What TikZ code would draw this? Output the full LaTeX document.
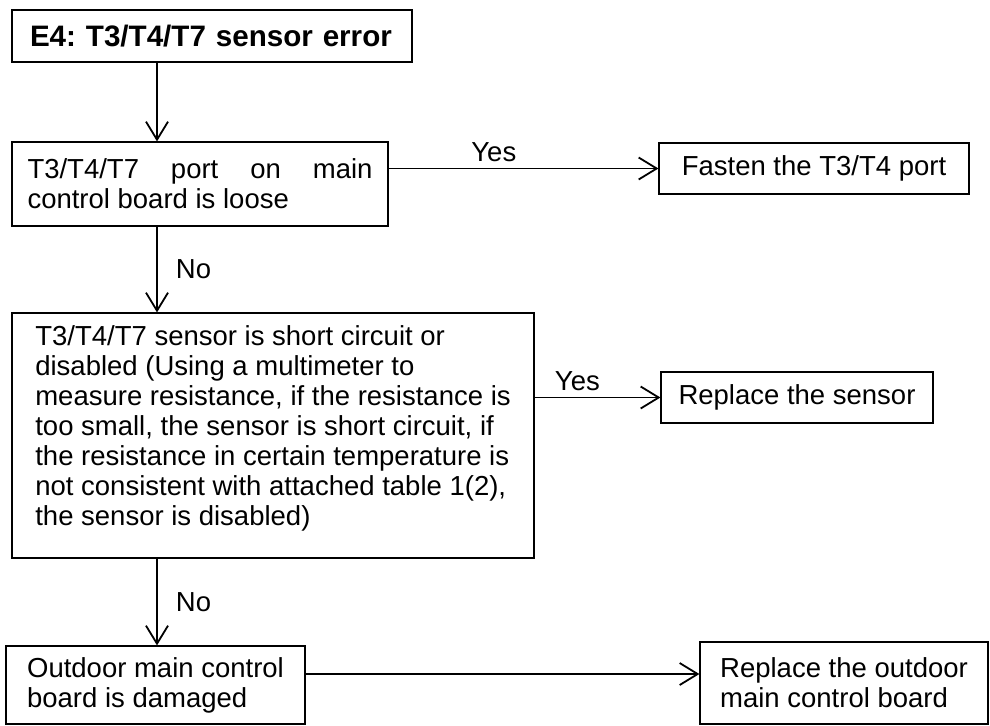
\documentclass[tikz,border=0pt]{standalone}
\usepackage{fontspec}
\setmainfont{Liberation Sans}
\frenchspacing
\usetikzlibrary{arrows.meta, positioning}
\tikzstyle{stepbox}   = [draw, line width=0.6pt, inner sep=0pt, align=left]
\tikzstyle{flow}      = [line width=0.9pt, -{Straight Barb[length=9pt, width=11pt, line width=0.9pt]}]
\tikzstyle{flowlabel} = [inner sep=3pt]

\begin{document}
\begin{tikzpicture}[
        x=0.5pt,
        y=-0.5pt,
        every node/.style={font=\fontsize{13.75}{15}\selectfont}
    ]
        \useasboundingbox (0,0) rectangle (990,725);

        % Main column
        \node[stepbox, minimum width=200pt, minimum height=26pt, text width=182pt,
            font=\fontsize{14.8}{15}\selectfont\bfseries] (err) at (212,36)
            {E4: T3/T4/T7 sensor error};
        \node[stepbox, minimum width=188pt, minimum height=42pt, text width=172.5pt,
            align=justify] (loose) at (200,184)
            {T3/T4/T7 port on main\linebreak control board is loose};
        \node[stepbox, minimum width=261pt, minimum height=122.5pt] (sensor) at (273,435.5)
            {T3/T4/T7 sensor is short circuit or\\
            disabled (Using a multimeter to\\
            measure resistance, if the resistance is\\
            too small, the sensor is short circuit, if\\
            the resistance in certain temperature is\\
            not consistent with attached table 1(2),\\
            the sensor is disabled)\\[-0.4em]};
        \node[stepbox, minimum width=149.5pt, minimum height=39pt] (board) at (155.5,685)
            {Outdoor main control\\board is damaged};

        % Actions
        \node[stepbox, minimum width=155pt, minimum height=25.5pt] (fasten) at (814,168.5)
            {Fasten the T3/T4 port};
        \node[stepbox, minimum width=136pt, minimum height=25.5pt] (replace) at (797,397.5)
            {Replace the sensor};
        \node[stepbox, minimum width=144pt, minimum height=41pt] (newboard) at (844,683)
            {Replace the outdoor\\main control board};

        % Down the main column
        \coordinate (spine) at (157,0);
        \foreach \a/\b/\t in {err/loose/, loose/sensor/No, sensor/board/No} {
            \draw[flow] (\a.south -| spine) -- node[right=6pt, flowlabel] {\t} (\b.north -| spine);
        }

        % Yes branches
        \draw[flow] (loose.east |- fasten.west) -- node[above, pos=0.39, flowlabel] {Yes} (fasten.west);
        \draw[flow] (sensor.east |- replace.west) -- node[above, pos=0.34, flowlabel] {Yes} (replace.west);

        % Last step
        \coordinate (lastrow) at (0,674);
        \draw[flow] (board.east |- lastrow) -- (newboard.west |- lastrow);

    \end{tikzpicture}
\end{document}
